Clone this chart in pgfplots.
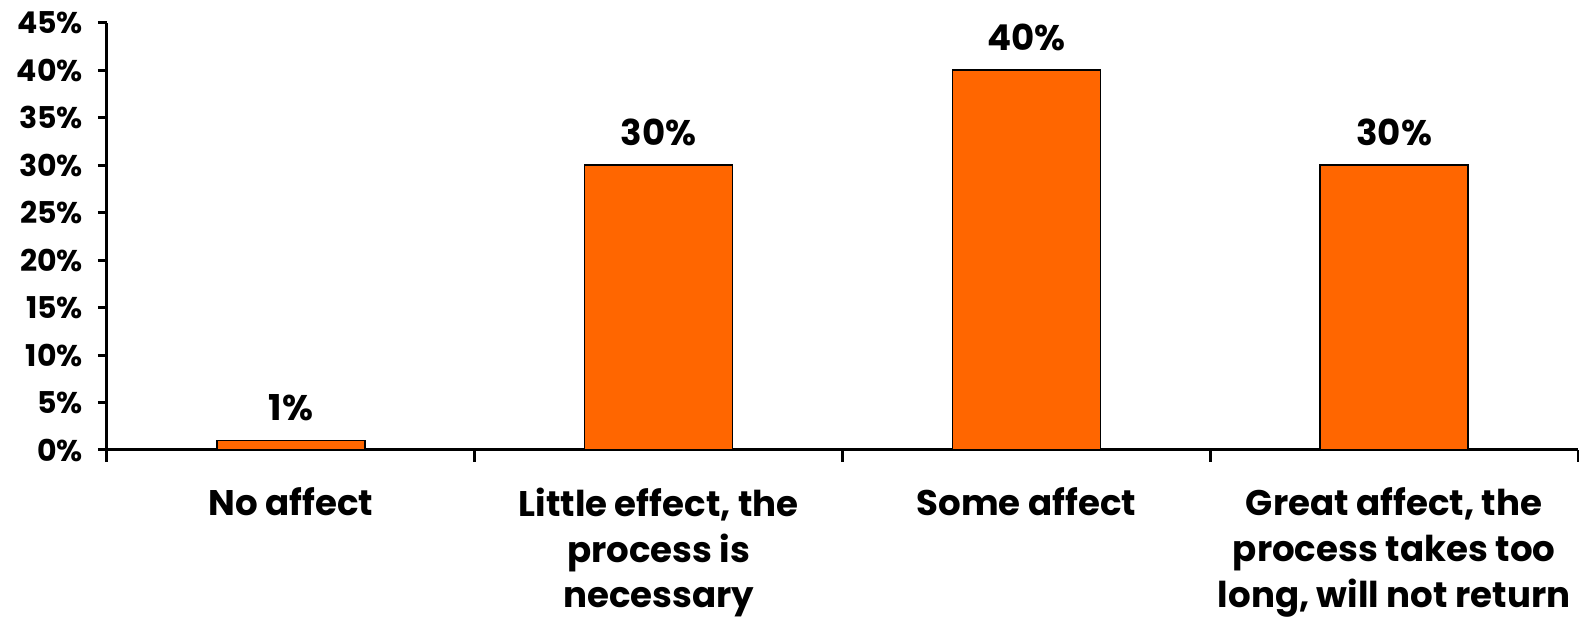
\documentclass[border=0pt]{standalone}
\usepackage{pgfplots}
\pgfplotsset{compat=1.18}
\usepackage{fontspec}
\setmainfont{Poppins}
\definecolor{barorange}{HTML}{FF6600}
\begin{document}
\begin{tikzpicture}
\path[use as bounding box] (-53.5pt,-85pt) rectangle (736pt,225pt);
\begin{axis}[
  at={(0,0)}, anchor=south west,
  scale only axis,
  width=735.5pt, height=213.7pt,
  ymin=0, ymax=45,
  xmin=-0.5, xmax=3.5,
  ytick={0,5,...,45},
  yticklabel={\pgfmathprintnumber{\tick}\%},
  /pgf/number format/assume math mode=true,
  yticklabel style={font=\fontsize{15}{17}\selectfont\bfseries, xshift=-4pt},
  xtick={0,1,2,3},
  xticklabels={No affect, {Little effect, the\\process is\\necessary}, Some affect, {Great affect, the\\process takes too\\long, will not return}},
  xticklabel style={font=\fontsize{17.8}{22.8}\selectfont\bfseries, align=center, anchor=north, yshift=-11pt},
  major x tick style={draw=none},
  minor xtick={-0.5,0.5,1.5,2.5,3.5},
  minor tick length=6pt,
  major tick length=4.5pt,
  tick align=outside,
  axis lines*=left,
  axis line style={line width=1.5pt},
  every tick/.style={line width=1.5pt, black},
  ybar,
  bar width=74pt,
  nodes near coords={\pgfmathprintnumber{\pgfplotspointmeta}\%},
  every node near coord/.append style={font=\fontsize{17.8}{22}\selectfont\bfseries, black, yshift=6pt},
]
\addplot[fill=barorange, draw=black, line width=0.8pt] coordinates {(0,1) (1,30) (2,40) (3,30)};
\end{axis}
\end{tikzpicture}
\end{document}
